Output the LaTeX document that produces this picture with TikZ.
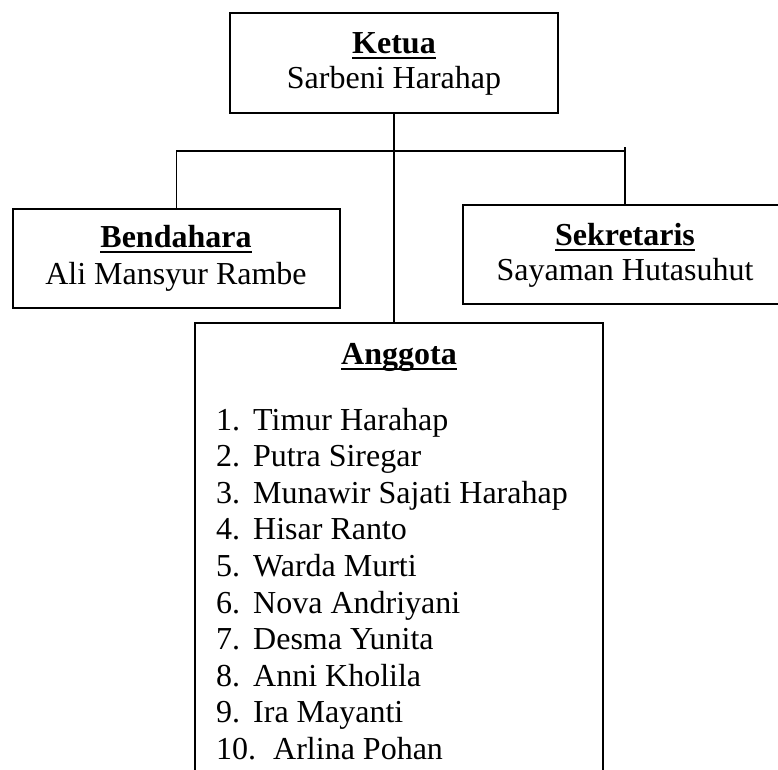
\documentclass[tikz,border=0pt]{standalone}
\usepackage{fontspec}
\setmainfont{Liberation Serif}
\newcommand\myuline[1]{\setbox0\hbox{#1}\leavevmode\rlap{\vrule width\wd0 height -4pt depth 6pt}\box0}
\begin{document}
\begin{tikzpicture}[x=1pt,y=-1pt,
  box/.style={draw=black,line width=1.8pt,inner sep=0pt,minimum width=#1},
  lbl/.style={anchor=base,inner sep=0pt,font=\fontsize{32}{36.8}\selectfont},
  item/.style={anchor=base west,inner sep=0pt,font=\fontsize{32}{36.8}\selectfont},
  link/.style={draw=black,line width=1.8pt}]
\clip (0,0) rectangle (778,769);
\fill[white] (0,0) rectangle (778,769);
% boxes
\node[box=328pt,minimum height=100pt] (ketua) at (394,63) {};
\node[box=327pt,minimum height=99pt] (bend) at (176.5,258.5) {};
\node[box=327pt,minimum height=99pt] (sek) at (626.5,254.5) {};
\node[box=408pt,minimum height=477pt] (angg) at (399,561.5) {};
% texts
\node[lbl] (ketuaT) at (394,53) {\myuline{\textbf{Ketua}}};
\node[lbl] (ketuaN) at (394,88) {Sarbeni Harahap};
\node[lbl] (bendT) at (176,247) {\myuline{\textbf{Bendahara}}};
\node[lbl] (bendN) at (176,284) {Ali Mansyur Rambe};
\node[lbl] (sekT) at (625,245) {\myuline{\textbf{Sekretaris}}};
\node[lbl] (sekN) at (625,280) {Sayaman Hutasuhut};
\node[lbl] (anggT) at (399,364) {\myuline{\textbf{Anggota}}};
\foreach \i/\nm in {1/Timur Harahap,2/Putra Siregar,3/Munawir Sajati Harahap,4/Hisar Ranto,5/Warda Murti,6/Nova Andriyani,7/Desma Yunita,8/Anni Kholila,9/Ira Mayanti}{
  \node[item] (num\i) at (216,{430+36.6*(\i-1)}) {\i.};
  \node[item] (nm\i) at (253,{430+36.6*(\i-1)}) {\nm};
}
\node[item] (num10) at (216,759.4) {10.};
\node[item] (nm10) at (273,759.4) {Arlina Pohan};
% connectors
\coordinate (hl) at (bend.north |- 0,151);
\coordinate (hr) at (625,151);
\coordinate (rtop) at (625,147);
\draw[link] (ketua.south) -- (ketua.south |- angg.north);
\draw[link] (bend.north) -- (hl) -- (hr);
\draw[link] (rtop) -- (rtop |- sek.north);
\end{tikzpicture}
\end{document}
